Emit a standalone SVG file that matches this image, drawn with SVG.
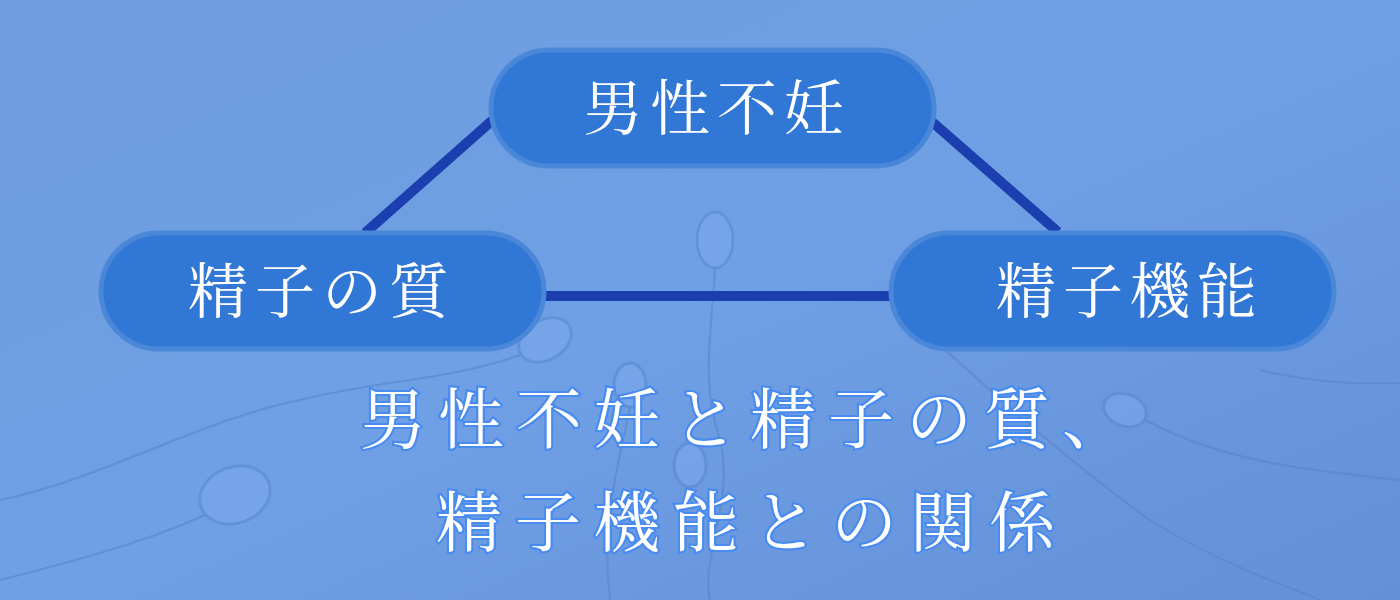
<svg xmlns="http://www.w3.org/2000/svg" width="1400" height="600" viewBox="0 0 1400 600">
<defs>
<style>
.node{fill:#3077d6;stroke:#4b87d8;stroke-width:5}
.nt{font-family:"Noto Serif CJK JP","Noto Sans CJK JP",serif;font-size:60px;fill:#fff;text-anchor:middle;letter-spacing:7px}
.title{font-family:"Noto Serif CJK JP","Noto Sans CJK JP",serif;font-size:66px;fill:#fff;text-anchor:middle;stroke:#4a8cf0;stroke-width:4;paint-order:stroke;filter:url(#glow)}
.conn{stroke:#1b3fae;stroke-width:10;fill:none}
.sp{fill:#7eaaf0;opacity:.5;stroke:#5a86cf;stroke-width:3}
.tail{fill:none;stroke:#5a83c6;stroke-width:2;opacity:.6}
</style>
<linearGradient id="bg" x1="0" y1="0" x2="1" y2="1">
<stop offset="0" stop-color="#6e9ee0"/><stop offset="0.5" stop-color="#6f9fe4"/><stop offset="1" stop-color="#6390d8"/>
</linearGradient>
<filter id="glow" x="-10%" y="-30%" width="120%" height="160%"><feGaussianBlur in="SourceAlpha" stdDeviation="3"/><feFlood flood-color="#3a7cf0"/><feComposite operator="in" in2="SourceAlpha"/><feMerge><feMergeNode/><feMergeNode in="SourceGraphic"/></feMerge></filter>
</defs>
<rect width="1400" height="600" fill="url(#bg)"/>
<g id="background">
<ellipse class="sp" cx="715" cy="240" rx="18" ry="28"/>
<path class="tail" d="M715 268 C712 330 700 380 720 440 C735 500 700 560 710 600"/>
<ellipse class="sp" cx="545" cy="340" rx="28" ry="20" transform="rotate(-30 545 340)"/>
<path class="tail" d="M520 355 C450 380 380 380 300 400 C200 420 100 480 0 500"/>
<ellipse class="sp" cx="235" cy="495" rx="36" ry="28" transform="rotate(-20 235 495)"/>
<path class="tail" d="M205 515 C150 540 80 560 0 580"/>
<ellipse class="sp" cx="630" cy="385" rx="16" ry="22"/>
<path class="tail" d="M630 407 C620 460 600 520 610 600"/>
<ellipse class="sp" cx="690" cy="465" rx="16" ry="22"/>
<ellipse class="sp" cx="1125" cy="410" rx="22" ry="16" transform="rotate(20 1125 410)"/>
<path class="tail" d="M1145 420 C1220 460 1300 470 1400 480"/>
<path class="tail" d="M940 345 C1000 400 1080 470 1150 520 C1230 570 1300 590 1320 600"/>
<path class="tail" d="M1260 370 C1300 380 1350 385 1400 383"/>
</g>
<g id="connectors">
<line class="conn" x1="365" y1="233" x2="495" y2="118"/>
<line class="conn" x1="930" y1="120" x2="1058" y2="232"/>
<line class="conn" x1="543" y1="296" x2="892" y2="296"/>
</g>
<g id="node-top"><rect class="node" x="491" y="50" width="443" height="116" rx="58"/><text class="nt" x="717" y="130">男性不妊</text></g>
<g id="node-left"><rect class="node" x="101" y="233" width="443" height="116" rx="58"/><text class="nt" x="322" y="313">精子の質</text></g>
<g id="node-right"><rect class="node" x="891" y="233" width="443" height="116" rx="58"/><text class="nt" x="1130" y="313">精子機能</text></g>
<g id="title">
<text class="title" x="750" y="443" letter-spacing="12">男性不妊と精子の質、</text>
<text class="title" x="752" y="546" letter-spacing="13">精子機能との関係</text>
</g>
</svg>
